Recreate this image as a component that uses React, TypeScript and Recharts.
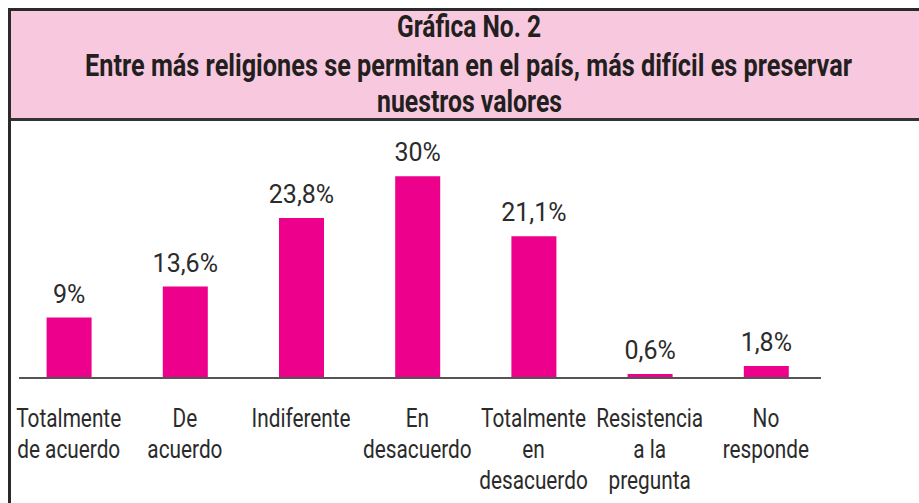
import { Bar, BarChart, LabelList, XAxis, YAxis } from "recharts"

const categories = [
  ["Totalmente", "de acuerdo"],
  ["De", "acuerdo"],
  ["Indiferente"],
  ["En", "desacuerdo"],
  ["Totalmente", "en", "desacuerdo"],
  ["Resistencia", "a la", "pregunta"],
  ["No", "responde"],
]
const values = [9, 13.6, 23.8, 30, 21.1, 0.6, 1.8]
const valueLabels = ["9%", "13,6%", "23,8%", "30%", "21,1%", "0,6%", "1,8%"]

const title = "Gráfica No. 2"
const subtitle = ["Entre más religiones se permitan en el país, más difícil es preservar", "nuestros valores"]

const data = categories.map((lines, i) => ({
  name: lines.join(" "),
  lines,
  value: values[i],
  label: valueLabels[i],
}))

const FONT = "Roboto, 'Liberation Sans', sans-serif"
const PINK = "#ec008c"

function CategoryTick(props: any) {
  const { x, y, index } = props
  const lines = categories[index] || []
  return (
    <g transform={`translate(${x},${y}) scale(0.8,1)`}>
      {lines.map((line, i) => (
        <text key={i} x={0} y={49 + i * 31} textAnchor="middle" fontSize={26} fontFamily={FONT} fill="#2b2b2b">
          {line}
        </text>
      ))}
    </g>
  )
}

function ValueLabel(props: any) {
  const { x, y, width, index } = props
  return (
    <text x={x + width / 2} y={y - 15} textAnchor="middle" fontSize={25} fontFamily={FONT} fill="#2b2b2b">
      {valueLabels[index]}
    </text>
  )
}

export default function App() {
  return (
    <div style={{ position: "fixed", left: 0, top: 0, width: 919, height: 503, overflow: "hidden", background: "#fff" }}>
      <div
        style={{
          position: "absolute",
          left: 8,
          top: 8,
          width: 930,
          height: 520,
          borderLeft: "3px solid #2a2a2a",
          borderTop: "3px solid #2a2a2a",
        }}
      />
      <div
        style={{
          position: "absolute",
          left: 11,
          top: 11,
          width: 920,
          height: 107,
          background: "#f8c9de",
          borderBottom: "3px solid #333",
        }}
      />
      <svg style={{ position: "absolute", left: 0, top: 0 }} width={919} height={125}>
        <text x={469} y={37} textAnchor="middle" fontSize={31} fontWeight="bold" fontFamily={FONT} fill="#231f20" textLength={144} lengthAdjust="spacingAndGlyphs">
          {title}
        </text>
        <text x={468.5} y={76} textAnchor="middle" fontSize={31} fontWeight="bold" fontFamily={FONT} fill="#231f20" textLength={767} lengthAdjust="spacingAndGlyphs">
          {subtitle[0]}
        </text>
        <text x={469.5} y={112} textAnchor="middle" fontSize={31} fontWeight="bold" fontFamily={FONT} fill="#231f20" textLength={185} lengthAdjust="spacingAndGlyphs">
          {subtitle[1]}
        </text>
      </svg>
      <div style={{ position: "absolute", left: 0, top: 0 }}>
        <BarChart width={919} height={503} data={data} margin={{ top: 136, right: 98, bottom: 95, left: 19 }}>
          <XAxis
            dataKey="name"
            interval={0}
            height={30}
            padding={{ left: -8.4, right: -3 }}
            tickLine={false}
            tickSize={0}
            tickMargin={0}
            axisLine={{ stroke: "#555", strokeWidth: 2 }}
            tick={<CategoryTick />}
          />
          <YAxis hide domain={[0, 36]} />
          <Bar dataKey="value" fill={PINK} barSize={45} isAnimationActive={false}>
            <LabelList dataKey="label" content={<ValueLabel />} />
          </Bar>
        </BarChart>
      </div>
    </div>
  )
}
